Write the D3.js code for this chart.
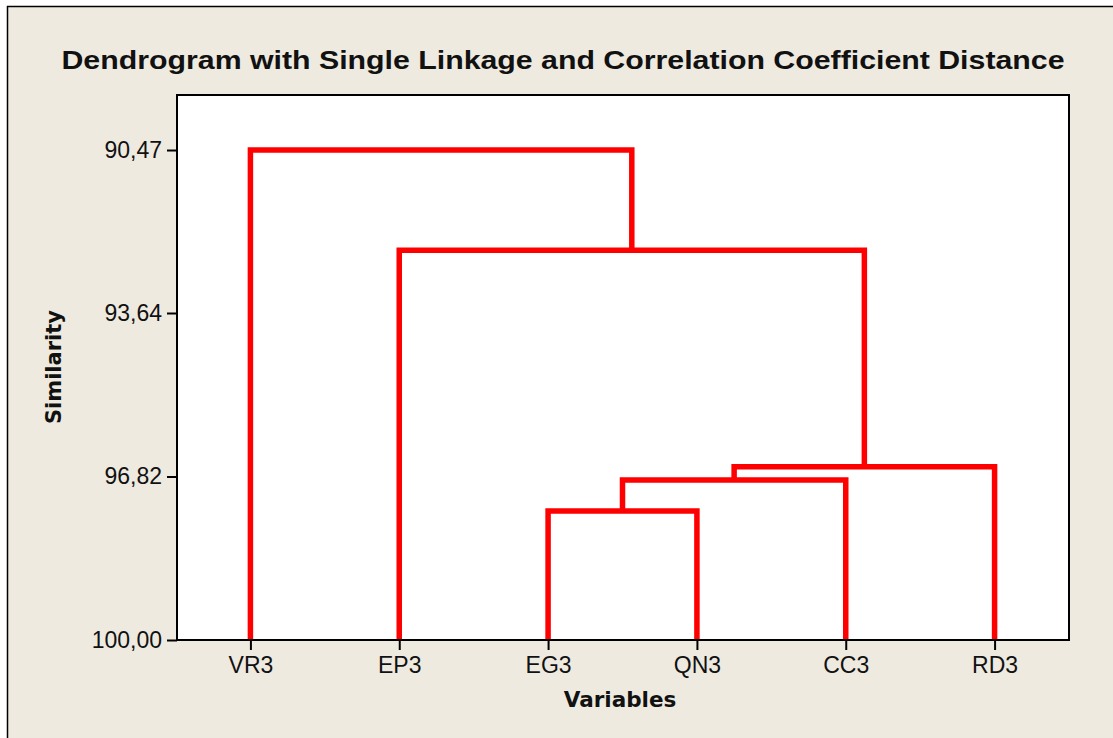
<!DOCTYPE html>
<html>
<head>
<meta charset="utf-8">
<script src="https://cdn.jsdelivr.net/npm/d3@7"></script>
<style>
  body { margin: 0; background: #ffffff; }
  svg { display: block; }
  .tick text { font-family: "Liberation Sans", Arial, sans-serif; font-size: 23px; fill: #111; }
</style>
</head>
<body>
<div id="chart"></div>
<script>
// leaves in display order
var leaves = ["VR3", "EP3", "EG3", "QN3", "CC3", "RD3"];
var yTicks = [90.47, 93.64, 96.82, 100.00];

// single linkage merge steps: cluster Ck is made of mergeLeft[k-1] + mergeRight[k-1]
var mergeIds = ["C1", "C2", "C3", "C4", "C5"];
var mergeLeft = ["EG3", "C1", "C2", "EP3", "VR3"];
var mergeRight = ["QN3", "CC3", "RD3", "C3", "C4"];
var mergeSimilarity = [97.49, 96.89, 96.63, 92.42, 90.47];

var width = 1113, height = 738;
var plot = {left: 177, top: 95, right: 1069, bottom: 640};

var svg = d3.select("#chart").append("svg")
    .attr("width", width)
    .attr("height", height);

// outer beige frame (runs off the right and bottom edges)
svg.append("rect")
    .attr("x", 7.5).attr("y", 6.5)
    .attr("width", width).attr("height", height)
    .attr("fill", "#eeeae0")
    .attr("stroke", "#000")
    .attr("stroke-width", 1.5);

svg.append("text")
    .attr("x", 563).attr("y", 69)
    .attr("text-anchor", "middle")
    .attr("textLength", 1003)
    .attr("lengthAdjust", "spacingAndGlyphs")
    .style("font-family", "'Liberation Sans', Arial, sans-serif")
    .style("font-weight", "bold")
    .style("font-size", "25px")
    .style("fill", "#111")
    .text("Dendrogram with Single Linkage and Correlation Coefficient Distance");

var x = d3.scalePoint()
    .domain(leaves)
    .range([plot.left - 1, plot.right])
    .padding(0.5);

var y = d3.scaleLinear()
    .domain([89.40, 100])
    .range([plot.top, plot.bottom]);

svg.append("rect")
    .attr("x", plot.left).attr("y", plot.top)
    .attr("width", plot.right - plot.left)
    .attr("height", plot.bottom - plot.top)
    .attr("fill", "#fff");

// node positions: leaves sit at similarity 100
var pos = {};
leaves.forEach(function(d) { pos[d] = {x: x(d), s: 100} });

var links = mergeIds.map(function(id, i)
{
    var a = pos[mergeLeft[i]], b = pos[mergeRight[i]];
    pos[id] = {x: (a.x + b.x) / 2, s: mergeSimilarity[i]};
    return {a: a, b: b, s: mergeSimilarity[i]};
});

svg.append("g")
    .selectAll("path")
    .data(links)
    .join("path")
    .attr("d", function(d) {
        return "M" + d.a.x + "," + y(d.a.s) +
               "V" + y(d.s) + "H" + d.b.x + "V" + y(d.b.s);
    })
    .attr("fill", "none")
    .attr("stroke", "#ff0000")
    .attr("stroke-width", 5.5)
    .attr("stroke-linejoin", "miter");

svg.append("rect")
    .attr("x", plot.left).attr("y", plot.top)
    .attr("width", plot.right - plot.left)
    .attr("height", plot.bottom - plot.top)
    .attr("fill", "none")
    .attr("stroke", "#000")
    .attr("stroke-width", 2);

var yAxis = svg.append("g")
    .attr("transform", "translate(" + plot.left + ",0)")
    .call(d3.axisLeft(y)
        .tickValues(yTicks)
        .tickSize(10)
        .tickPadding(5)
        .tickFormat(function(d) { return d.toFixed(2).replace(".", ",") }));

var xAxis = svg.append("g")
    .attr("transform", "translate(0," + plot.bottom + ")")
    .call(d3.axisBottom(x).tickSize(10).tickPadding(7));

[xAxis, yAxis].forEach(function(g) {
    g.select(".domain").remove();
    g.selectAll(".tick line").attr("stroke", "#000").attr("stroke-width", 2);
    g.selectAll(".tick text").attr("font-size", null).attr("font-family", null);
});

svg.append("text")
    .attr("x", 620).attr("y", 707)
    .attr("text-anchor", "middle")
    .style("font-family", "'DejaVu Sans', Verdana, sans-serif")
    .style("font-weight", "bold")
    .style("font-size", "21.5px")
    .style("fill", "#111")
    .text("Variables");

svg.append("text")
    .attr("transform", "translate(61,367) rotate(-90)")
    .attr("text-anchor", "middle")
    .style("font-family", "'DejaVu Sans', Verdana, sans-serif")
    .style("font-weight", "bold")
    .style("font-size", "21px")
    .style("fill", "#111")
    .text("Similarity");
</script>
</body>
</html>
